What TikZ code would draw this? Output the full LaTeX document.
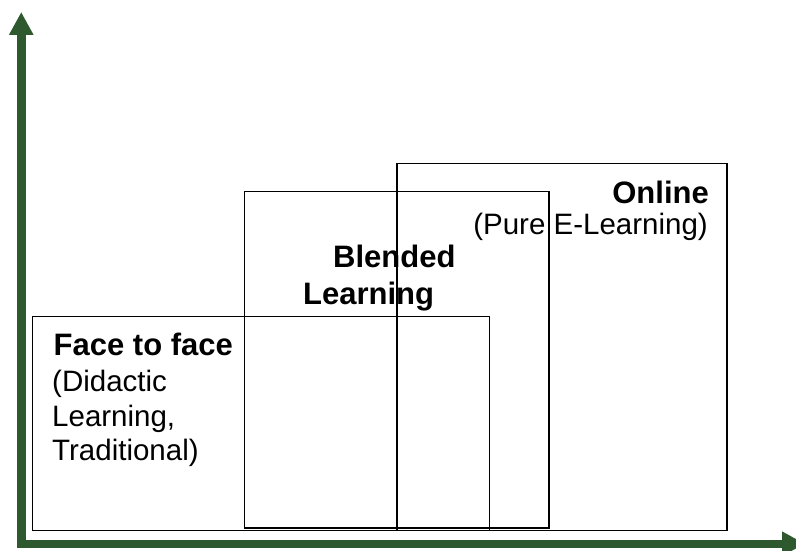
\documentclass[tikz,border=0pt]{standalone}
\usepackage{fontspec}
\setmainfont{Liberation Sans}
\usepackage{tikz}
\usetikzlibrary{arrows.meta}
\definecolor{axisGreen}{RGB}{46,88,46}

\begin{document}
\begin{tikzpicture}[%
	x=1pt, y=1pt,
	every node/.style={
		font=\fontsize{29.5}{34}\selectfont,
		inner sep=0pt,
	},
	axis/.style={
		draw=axisGreen, line width=8.5pt, miter limit=10,
		arrows={Triangle[length=23pt,width=23pt,fill=axisGreen]-Triangle[length=23pt,width=23pt,fill=axisGreen]},
	},
	box/.style={draw=black, line width=1.6pt},
	title/.style={font=\fontsize{31}{36}\selectfont\bfseries},
	]
	% fix the page
	\useasboundingbox (0,0) rectangle (796,550);
	
	% corner and ends of the axes
	\coordinate (origin) at (21.25,6.25);
	\coordinate (ytop) at (21.25,538);
	\coordinate (xend) at (805,6.25);
	
	% draw the three boxes
	\draw[box] (32.5,19.5) rectangle (489.5,233.5);
	\draw[box] (244.5,22) rectangle (549,358.5);
	\draw[box] (397,19.5) rectangle (727,386.5);
	
	% face to face
	\node[title, anchor=base west] (faceTitle) at (53.5,195) {Face to face};
	\node[anchor=base west] (faceNoteA) at (52,159) {(Didactic};
	\node[anchor=base west] (faceNoteB) at (52,124) {Learning,};
	\node[anchor=base west] (faceNoteC) at (52,90) {Traditional)};
	
	% blended
	\node[title, anchor=base west] (blendTitleA) at (333,282.5) {Blended};
	\node[title, anchor=base west] (blendTitleB) at (303,246) {Learning};
	
	% online
	\node[title, anchor=base east] (onlineTitle) at (709,346.5) {Online};
	\node[anchor=base east] (onlineNote) at (708,315) {(Pure E-Learning)};
	
	% draw axes
	\draw[axis] (ytop) -- (origin) -- (xend);
\end{tikzpicture}
\end{document}
